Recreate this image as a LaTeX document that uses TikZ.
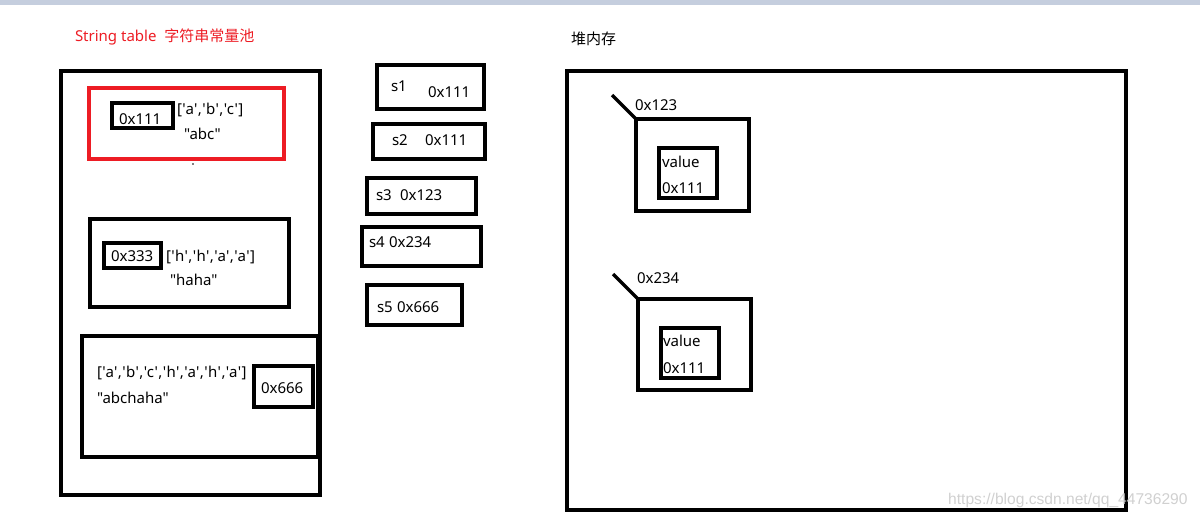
\documentclass[tikz,border=0pt]{standalone}
\usepackage{fontspec}
\setmainfont{Noto Sans}[Ligatures=TeXOff]
\newfontfamily\cjk{Noto Sans CJK SC}
\newfontfamily\wmfont{Liberation Sans}
\newfontfamily\arrfont{Noto Sans}[Ligatures=TeXOff,LetterSpace=2.7]
\definecolor{paintred}{RGB}{237,28,36}
\definecolor{bandc}{RGB}{197,206,222}
\definecolor{wmgray}{RGB}{208,208,208}
\newcommand\mybox[5]{\node[box,minimum width=#4pt,minimum height=#5pt] (#1) at (#2,#3) {};}
\begin{document}
\begin{tikzpicture}[x=1pt,y=-1pt,
  box/.style={draw,line width=3.2pt,inner sep=0pt,outer sep=0pt,anchor=north west},
  redbox/.style={box,draw=paintred},
  txt/.style={inner sep=0pt,outer sep=0pt,anchor=base west,font=\fontsize{15}{18}\selectfont},
  arr/.style={txt,font=\arrfont\fontsize{15}{18}\selectfont},
  wm/.style={inner sep=0pt,anchor=base west,text=wmgray,font=\wmfont\fontsize{15.6}{18}\selectfont},
  ptr/.style={line width=3.2pt}]
\useasboundingbox (0,0) rectangle (1200,517);
\fill[bandc] (0,0) rectangle (1200,5);
% title
\node[txt,text=paintred] (title) at (75,41) {String table\ \ {\cjk 字符串常量池}};
% string table
\mybox{outer}{61}{71}{259}{424}
\node[redbox,minimum width=195pt,minimum height=71pt] (red) at (89,88) {};
\mybox{pa}{112}{103}{61}{25}
\node[txt] (ta) at (119,124) {0x111};
\node[arr] (arra) at (177,114) {['a','b','c']};
\node[txt] (stra) at (184,139) {"abc"};
\fill (193,164) circle (0.8pt) coordinate (dot);
\mybox{box2}{90}{219}{199}{88}
\mybox{pb}{104}{243}{57}{25}
\node[txt] (tb) at (111,261) {0x333};
\node[arr] (arrb) at (166,261) {['h','h','a','a']};
\node[txt] (strb) at (170,285) {"haha"};
\mybox{box3}{82}{336}{236}{121}
\mybox{pc}{254}{366}{59}{41}
\node[txt] (tc) at (261,393) {0x666};
\node[arr] (arrc) at (97,377) {['a','b','c','h','a','h','a']};
\node[txt] (strc) at (97,403) {"abchaha"};
% stack variables
\mybox{s1}{377}{65}{107}{44}
\node[txt] (s1n) at (391,91) {s1};
\node[txt] (s1v) at (428,97) {0x111};
\mybox{s2}{373}{124}{112}{35}
\node[txt] (s2n) at (392,145) {s2};
\node[txt] (s2v) at (425,145) {0x111};
\mybox{s3}{367}{178}{109}{36}
\node[txt] (s3n) at (376,200) {s3};
\node[txt] (s3v) at (400,200) {0x123};
\mybox{s4}{362}{227}{119}{39}
\node[txt] (s4n) at (369,247) {s4};
\node[txt] (s4v) at (389,247) {0x234};
\mybox{s5}{367}{285}{95}{40}
\node[txt] (s5n) at (377,312) {s5};
\node[txt] (s5v) at (397,312) {0x666};
% heap
\node[txt] (heapt) at (571,44) {\cjk 堆内存};
\mybox{heap}{567}{71}{559}{439}
\mybox{oa}{636}{119}{113}{92}
\mybox{va}{659}{148}{58}{50}
\node[txt] (vat) at (662,167) {value};
\node[txt] (vav) at (662,193) {0x111};
\node[txt] (oat) at (635,110) {0x123};
\coordinate (ca) at (612,95);
\draw[ptr] (ca) -- (oa.north west);
\mybox{ob}{638}{299}{113}{91}
\mybox{vb}{661}{328}{58}{50}
\node[txt] (vbt) at (663,346) {value};
\node[txt] (vbv) at (663,373) {0x111};
\node[txt] (obt) at (637,283) {0x234};
\coordinate (cb) at (613,274);
\draw[ptr] (cb) -- (ob.north west);
% watermark
\node[wm] (wmk) at (948,504) {https://blog.csdn.net/qq\_44736290};
\end{tikzpicture}
\end{document}
